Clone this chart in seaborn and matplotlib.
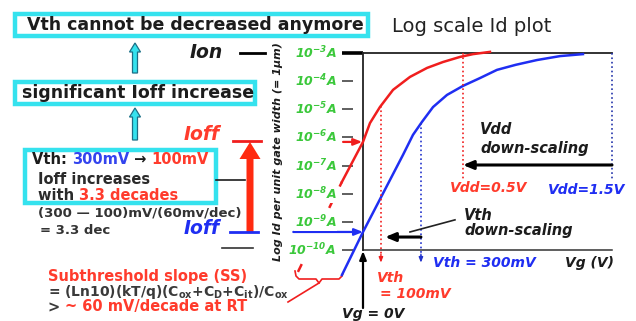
import matplotlib
matplotlib.use('Agg')
import matplotlib.pyplot as plt
import seaborn as sns
import pandas as pd
from matplotlib.patches import Rectangle, FancyArrow

plt.rcParams['font.family'] = ['DejaVu Sans']
plt.rcParams['mathtext.fontset'] = 'custom'
plt.rcParams['mathtext.rm'] = 'DejaVu Sans:italic:bold'
plt.rcParams['mathtext.it'] = 'DejaVu Sans:italic:bold'
plt.rcParams['mathtext.bf'] = 'DejaVu Sans:bold'

# ---------------- data ----------------
tick_logs = [-3, -4, -5, -6, -7, -8, -9, -10]
tick_labels = [r'$10^{-3}$A', r'$10^{-4}$A', r'$10^{-5}$A', r'$10^{-6}$A',
               r'$10^{-7}$A', r'$10^{-8}$A', r'$10^{-9}$A', r'$10^{-10}$A']

# Vdd = 1.5 V device (Vth = 300 mV), gate voltage (V) and log10(Id)
blue_vg = [-0.127, 0.0, 0.241, 0.301, 0.355, 0.422, 0.506, 0.602, 0.705, 0.807, 0.92, 1.048, 1.187, 1.325]
blue_log = [-10.89, -9.36, -6.62, -5.91, -5.45, -4.92, -4.49, -4.17, -3.89, -3.60, -3.42, -3.25, -3.11, -3.04]

# Vdd = 0.5 V device (Vth = 100 mV): dashed sub-range and solid range
red_sub_vg = [-0.392, -0.127]
red_sub_log = [-10.78, -7.58]
red_vg = [-0.127, 0.0, 0.042, 0.102, 0.181, 0.283, 0.386, 0.482, 0.584, 0.663, 0.765]
red_log = [-7.58, -6.16, -5.49, -4.92, -4.31, -3.85, -3.53, -3.32, -3.14, -3.04, -2.96]

ioff_log = {'red': -6.16, 'blue': -9.36}
vth_pos = {'red': 0.108, 'blue': 0.349}
vth_top = {'red': -4.88, 'blue': -5.50}
vdd_pos = {'red': 0.602, 'blue': 1.5}
vdd_top = {'red': -3.0, 'blue': -3.0}

# ---------------- colours ----------------
RED = '#F01E1E'
RED_T = '#FF3B2C'
BLUE = '#1F2EF2'
GREEN = '#3BC83B'
CYAN = '#35E2EE'
DARK = '#1c1c1c'

# ---------------- figure ----------------
W, H = 636, 321
fig = plt.figure(figsize=(W / 100, H / 100), dpi=100)
fig.patch.set_facecolor('white')

# pixel-coordinate axes for annotations
ax = fig.add_axes([0, 0, 1, 1])
ax.set_xlim(0, W)
ax.set_ylim(H, 0)
ax.axis('off')

# data axes (Vg in V, log10 Id) covering the whole figure
PX_V0, PX_PER_V, PY_DEC3, PX_PER_DEC = 363, 166, 53, 28.14
pax = fig.add_axes([0, 0, 1, 1])
pax.set_xlim(-PX_V0 / PX_PER_V, (W - PX_V0) / PX_PER_V)
pax.set_ylim(-3 - (H - PY_DEC3) / PX_PER_DEC, -3 + PY_DEC3 / PX_PER_DEC)
pax.axis('off')
pax.patch.set_alpha(0)

# axes frame of the plot
pax.plot([-0.127, 0], [-3, -3], color='black', lw=2.6, solid_capstyle='butt')
pax.plot([0, 1.5], [-3, -3], color='#222222', lw=1.3)
pax.plot([0, 1.5], [-10, -10], color='#333333', lw=1.1)
pax.plot([0, 0], [-3, -10], color='#222222', lw=1.3)
pax.hlines(tick_logs[1:], -0.127, -0.06, color='#444444', lw=1.2)

# curves
sns.lineplot(x=red_sub_vg, y=red_sub_log, ax=pax, color=RED, lw=1.8,
             linestyle=(0, (3.5, 6)), sort=False, estimator=None, legend=False)
sns.lineplot(x=red_vg, y=red_log, ax=pax, color=RED, lw=1.8,
             sort=False, estimator=None, legend=False)
sns.lineplot(x=blue_vg, y=blue_log, ax=pax, color=BLUE, lw=1.8,
             sort=False, estimator=None, legend=False)

for lg, lab in zip(tick_logs, tick_labels):
    pax.text(-0.16, lg, lab, ha='right', va='center', color=GREEN, zorder=5,
             fontsize=9, fontweight='bold', fontstyle='italic',
             bbox=dict(fc='white', ec='none', pad=0.5))

# Vdd dotted lines
vdd_bottom = -7.51
for key, col in (('red', RED), ('blue', '#2233AA')):
    pax.plot([vdd_pos[key], vdd_pos[key]], [vdd_top[key], vdd_bottom], color=col, lw=1.2, linestyle=':')
pax.annotate('', xy=(vdd_pos['red'], -6.98), xytext=(vdd_pos['blue'], -6.98),
             arrowprops=dict(arrowstyle='-|>,head_length=0.6,head_width=0.25', color='black', lw=2.2,
                             shrinkA=0, shrinkB=0))

# Vth dotted lines with small arrow heads
vth_bottom = -10.45
for key, col in (('red', RED), ('blue', '#2233CC')):
    pax.plot([vth_pos[key], vth_pos[key]], [vth_top[key], vth_bottom + 0.15], color=col, lw=1.2, linestyle=':')
    pax.annotate('', xy=(vth_pos[key], vth_bottom), xytext=(vth_pos[key], vth_bottom + 0.3),
                 arrowprops=dict(arrowstyle='-|>,head_length=0.3,head_width=0.12', color=col, lw=1,
                                 shrinkA=0, shrinkB=0))
pax.annotate('', xy=(0.133, -9.54), xytext=(vth_pos['blue'], -9.54),
             arrowprops=dict(arrowstyle='-|>,head_length=0.6,head_width=0.25', color='black', lw=2.2,
                             shrinkA=0, shrinkB=0))
pax.plot([0.283, 0.554], [-9.36, -8.93], color='#222222', lw=1.2)

# Ioff arrows to the curves
pax.annotate('', xy=(0, ioff_log['blue']), xytext=(-0.42, ioff_log['blue']),
             arrowprops=dict(arrowstyle='-|>,head_length=0.5,head_width=0.2', color=BLUE, lw=1.6,
                             shrinkA=0, shrinkB=0))
pax.annotate('', xy=(-0.005, ioff_log['red']), xytext=(-0.12, ioff_log['red']),
             arrowprops=dict(arrowstyle='-|>,head_length=0.5,head_width=0.2', color=RED, lw=1.6,
                             shrinkA=0, shrinkB=0))

# ---------------- pixel-space annotations ----------------
bi = dict(fontweight='bold', fontstyle='italic')

# Vg = 0V arrow
ax.annotate('', xy=(363, 251), xytext=(363, 308),
            arrowprops=dict(arrowstyle='-|>,head_length=0.5,head_width=0.2', color='black', lw=1.6,
                            shrinkA=0, shrinkB=0))

ax.text(392, 27, 'Log scale Id plot', fontsize=14, color='#222222', va='center', ha='left')
ax.text(278, 152, 'Log Id per unit gate width (= 1μm)', rotation=90, fontsize=8,
        ha='center', va='center', color=DARK, **bi)

ax.text(480, 130, 'Vdd', fontsize=10.5, color=DARK, va='center', **bi)
ax.text(480, 148, 'down-scaling', fontsize=10.5, color=DARK, va='center', **bi)
ax.text(450, 188, 'Vdd=0.5V', fontsize=10, color=RED_T, va='center', **bi)
ax.text(548, 190, 'Vdd=1.5V', fontsize=10, color=BLUE, va='center', **bi)
ax.text(464, 215, 'Vth', fontsize=10.5, color=DARK, va='center', **bi)
ax.text(464, 231, 'down-scaling', fontsize=10.5, color=DARK, va='center', **bi)
ax.text(433, 263, 'Vth = 300mV', fontsize=10, color=BLUE, va='center', **bi)
ax.text(565, 263, 'Vg (V)', fontsize=10, color=DARK, va='center', **bi)
ax.text(377, 278, 'Vth', fontsize=10, color=RED_T, va='center', **bi)
ax.text(380, 294, '= 100mV', fontsize=10, color=RED_T, va='center', **bi)
ax.text(342, 314, 'Vg = 0V', fontsize=10, color=DARK, va='center', **bi)

# Ion / Ioff labels
ax.text(190, 53, 'Ion', fontsize=13.5, color=DARK, va='center', **bi)
ax.plot([240, 265], [53, 53], color='black', lw=2)
ax.text(184, 134, 'Ioff', fontsize=13.5, color=RED_T, va='center', **bi)
ax.plot([233, 261], [141, 141], color=RED, lw=2)
ax.text(184, 229, 'Ioff', fontsize=13.5, color=BLUE, va='center', **bi)
ax.plot([230, 258], [232, 232], color=BLUE, lw=2)
ax.plot([216, 245], [180, 180], color=DARK, lw=1.2)
ax.plot([222, 253], [248, 248], color='#333333', lw=1.2)
ax.add_patch(FancyArrow(250, 232, 0, -90, width=7, head_width=21, head_length=17,
                        length_includes_head=True, color='#FF2A10', lw=0))

# red brace
brace_x = [295, 296, 299, 316, 319, 322, 339, 342, 343]
brace_y = [271, 276, 279, 279, 283, 279, 279, 276, 273]
ax.plot(brace_x, brace_y, color=RED, lw=1.2)
ax.plot([319, 288], [283, 302], color=RED, lw=1.2)

# boxes
for (x0, y0, x1, y1) in [(15, 14, 368, 36), (15, 82, 255, 104), (25, 150, 216, 203)]:
    ax.add_patch(Rectangle((x0, y0), x1 - x0, y1 - y0, fill=False, ec=CYAN, lw=3.2))

for y_tail, y_tip in ((73, 43), (140, 108)):
    ax.add_patch(FancyArrow(135, y_tail, 0, y_tip - y_tail, width=5, head_width=11, head_length=9,
                            length_includes_head=True, fc=CYAN, ec='#1C6F86', lw=0.9))

ax.text(27, 25, 'Vth cannot be decreased anymore', fontsize=12.5, fontweight='bold',
        color=DARK, va='center')
ax.text(22, 93, 'significant Ioff increase', fontsize=12.5, fontweight='bold',
        color=DARK, va='center')


def rainbow(x, y, parts, fontsize):
    t = ax.text(x, y, parts[0][0], color=parts[0][1], fontsize=fontsize,
                fontweight='bold', va='center', ha='left')
    for s, c in parts[1:]:
        t = ax.annotate(s, xy=(1, 0), xycoords=t, va='bottom', ha='left', color=c,
                        fontsize=fontsize, fontweight='bold')
    return t


rainbow(32, 159, [('Vth: ', DARK), ('300mV', '#3344EE'), (' → ', DARK), ('100mV', RED_T)], 10.5)
rainbow(38, 179, [('Ioff increases', '#2a2a2a')], 10.5)
rainbow(38, 195, [('with ', '#2a2a2a'), ('3.3 decades', RED_T)], 10.5)

ax.text(38, 213, '(300 — 100)mV/(60mv/dec)', fontsize=9.5, fontweight='bold', color='#333333', va='center')
ax.text(40, 230, '= 3.3 dec', fontsize=9.5, fontweight='bold', color='#333333', va='center')

ax.text(48, 276, 'Subthreshold slope (SS)', fontsize=10.5, fontweight='bold', color=RED_T, va='center')
ax.text(48, 292, r'= (Ln10)(kT/q)(C$_{\mathbf{ox}}$+C$_{\mathbf{D}}$+C$_{\mathbf{it}}$)/C$_{\mathbf{ox}}$',
        fontsize=10, fontweight='bold', color='#3a3a3a', va='center')
rainbow(48, 307, [('> ', '#3a3a3a'), ('~ 60 mV/decade at RT', RED_T)], 10.5)

fig.savefig('out.png', dpi=100, facecolor='white')
